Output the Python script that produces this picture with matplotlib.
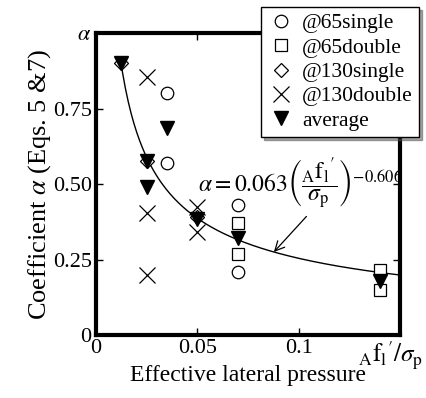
import numpy as np
import matplotlib
matplotlib.use("Agg")
from matplotlib import pyplot as plt

plt.rcParams["font.family"] = ["Liberation Serif", "DejaVu Serif"]
plt.rcParams["mathtext.fontset"] = "stix"

# data
x_65single = [0.035, 0.035, 0.07, 0.07]
y_65single = [0.80, 0.57, 0.43, 0.21]
x_65double = [0.07, 0.07, 0.14, 0.14]
y_65double = [0.37, 0.27, 0.215, 0.15]
x_130single = [0.0125, 0.025, 0.05]
y_130single = [0.90, 0.575, 0.39]
x_130double = [0.025, 0.025, 0.025, 0.05, 0.05]
y_130double = [0.855, 0.405, 0.20, 0.425, 0.34]
x_avg = [0.0125, 0.025, 0.025, 0.035, 0.05, 0.07, 0.14]
y_avg = [0.90, 0.575, 0.49, 0.685, 0.385, 0.32, 0.18]

coef = 0.063
expo = -0.606

fig = plt.figure(figsize=(4.26, 3.98), dpi=100)
ax = fig.add_axes([0.225, 0.158, 0.714, 0.759])

xs = np.linspace(0.0125, 0.15, 200)
ax.plot(xs, coef * xs ** expo, color="black", lw=1)

ax.plot(x_65single, y_65single, "o", mfc="white", mec="black", ms=9, mew=0.9,
        ls="none", label="@65single")
ax.plot(x_65double, y_65double, "s", mfc="white", mec="black", ms=9, mew=0.9,
        ls="none", label="@65double")
ax.plot(x_130single, y_130single, "D", mfc="white", mec="black", ms=7, mew=0.9,
        ls="none", label="@130single")
ax.plot(x_130double, y_130double, "x", color="black", ms=11, mew=0.9,
        ls="none", label="@130double")
ax.plot(x_avg, y_avg, "v", color="black", ms=10, ls="none", label="average")

ax.set_xlim(0, 0.15)
ax.set_ylim(0, 1.0)
ax.set_xticks([0, 0.05, 0.1, 0.15])
ax.set_xticklabels(["0", "0.05", "0.1", ""])
ax.set_yticks([0, 0.25, 0.5, 0.75, 1.0])
ax.set_yticklabels(["0", "0.25", "0.50", "0.75", r"$\alpha$"])
ax.tick_params(direction="in", length=5, width=1, labelsize=16,
               top=True, right=True, pad=3)
for s in ax.spines.values():
    s.set_linewidth(3)

# unit label in place of the last x tick
ax.text(0.1455, -0.012,
        r"${}_{\mathrm{A}}\mathrm{f}_{\mathrm{l}}{}'/\sigma_{\mathrm{p}}$",
        fontsize=18, ha="center", va="top",
        transform=ax.get_xaxis_transform())

ax.set_xlabel("Effective lateral pressure", fontsize=17, labelpad=5)
ax.set_ylabel(r"Coefficient $\alpha$ (Eqs. 5 &7)", fontsize=19, labelpad=0)

ax.annotate(r"$\alpha = 0.063\left(\dfrac{{}_{\mathrm{A}}\mathrm{f}_{\mathrm{l}}{}'}{\sigma_{\mathrm{p}}}\right)^{-0.606}$",
            xy=(0.0878, coef * 0.0878 ** expo), xytext=(0.0505, 0.50),
            fontsize=17, va="center", ha="left", annotation_clip=False,
            arrowprops=dict(arrowstyle="->", color="black", lw=0.9,
                            relpos=(0.55, 0.0), shrinkA=2, shrinkB=0))

leg = fig.legend(loc="upper left", bbox_to_anchor=(0.613, 0.983),
                 fontsize=15.5, frameon=True, fancybox=False, shadow=True,
                 edgecolor="black", framealpha=1, handletextpad=0.4,
                 labelspacing=0.2, borderpad=0.3, handlelength=1.2,
                 borderaxespad=0)
leg.get_frame().set_linewidth(1)

fig.savefig("out.png", dpi=100)
